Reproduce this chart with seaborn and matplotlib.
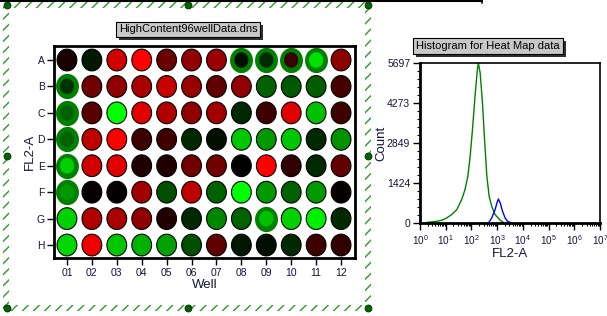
import numpy as np
import pandas as pd
import matplotlib
matplotlib.use("Agg")
import matplotlib.pyplot as plt
import matplotlib.patheffects as pe
import seaborn as sns
from matplotlib.colors import LinearSegmentedColormap
from matplotlib.path import Path
from matplotlib.patches import Rectangle
from matplotlib.lines import Line2D
from matplotlib.ticker import FixedLocator, MultipleLocator, LogLocator, NullFormatter

# ---------------- data ----------------
rows = ["A", "B", "C", "D", "E", "F", "G", "H"]
cols = ["01", "02", "03", "04", "05", "06", "07", "08", "09", "10", "11", "12"]

# well signal: negative = red, positive = green (scale -1..1)
row_A = [-0.10, 0.10, -0.82, -1.00, -0.42, -0.57, -0.60, 0.06, 0.16, -0.23, 0.88, -0.55]
row_B = [0.19, -0.44, -0.57, -0.66, -0.78, -0.60, -0.38, -0.57, 0.38, 0.35, 0.36, -0.28]
row_C = [0.38, -0.35, 1.00, -0.88, -0.69, -0.57, -0.63, 0.16, -0.25, -0.88, 0.75, -0.25]
row_D = [0.38, -0.75, -1.00, -0.25, -0.25, 0.16, 0.06, 0.78, 0.60, 0.78, 0.16, 0.57]
row_E = [0.82, -0.82, -0.88, -0.13, -0.13, -0.44, -0.44, 0.00, -1.00, -0.19, 0.16, -0.38]
row_F = [0.60, -0.03, -0.03, -0.63, 0.31, -0.75, 0.38, 1.00, 0.60, 0.38, 0.60, -0.03]
row_G = [0.82, -0.69, -0.66, -0.57, -0.13, 0.16, 0.53, 0.38, 0.75, 0.82, 0.94, 0.16]
row_H = [0.85, -0.94, 0.78, 0.69, 0.63, 0.31, -0.38, 0.09, 0.06, 0.16, -0.25, -0.19]
plate_rows = [row_A, row_B, row_C, row_D, row_E, row_F, row_G, row_H]

ringed_wells = ["A08", "A09", "A10", "A11", "B01", "C01", "D01", "E01", "F01", "G09"]

# histogram traces (log10 FL2-A, count)
green_log = [0.26, 0.65, 0.84, 1.04, 1.23, 1.43, 1.62, 1.75, 1.86, 1.95, 2.04, 2.14,
             2.23, 2.27, 2.34, 2.43, 2.51, 2.60, 2.69, 2.79, 2.92, 3.12, 3.25]
green_count = [20, 60, 95, 180, 300, 475, 830, 1190, 1660, 2370, 3320, 4510,
               5460, 5697, 5340, 4270, 2970, 1660, 950, 590, 300, 95, 20]
blue_log = [2.66, 2.79, 2.92, 2.99, 3.05, 3.12, 3.21, 3.31, 3.40, 3.57]
blue_count = [0, 180, 475, 710, 855, 710, 415, 180, 60, 0]
count_ticks = [0, 1424, 2849, 4273, 5697]

# ---------------- style ----------------
sns.set_theme(style="white")
plt.rcParams["font.family"] = ["Liberation Sans", "DejaVu Sans"]
plt.rcParams["mathtext.default"] = "regular"

W, H = 607, 316
fig = plt.figure(figsize=(W / 100, H / 100), dpi=100)
fig.patch.set_facecolor("white")


def fx(px):
    return px / W


def fy(py):
    return 1 - py / H


label_col = "#14143c"

# ---------------- plate ----------------
recs = []
for i, r in enumerate(rows):
    for j, c in enumerate(cols):
        name = r + c
        recs.append(dict(row=i + 1, col=j + 1, value=plate_rows[i][j],
                         ringed=name in ringed_wells))
df = pd.DataFrame(recs)

cmap = LinearSegmentedColormap.from_list("rg", ["#ff0000", "#000000", "#00ff00"])
t = np.linspace(0, 2 * np.pi, 60)
ell = Path(np.column_stack([np.cos(t) * 1.0, np.sin(t) * 1.1]), closed=True)

ax1 = fig.add_axes([fx(54), fy(258), fx(301), 212 / H])
ax1.set_facecolor("white")
normal = df[~df.ringed]
ring = df[df.ringed]
sns.scatterplot(data=ring, x="col", y="row", color="#008000", s=330, marker=ell,
                linewidth=0, ax=ax1, legend=False, zorder=2)
sns.scatterplot(data=normal, x="col", y="row", hue="value", palette=cmap,
                hue_norm=(-1, 1), s=245, marker=ell, edgecolor="black",
                linewidth=0.8, ax=ax1, legend=False, zorder=3)
sns.scatterplot(data=ring, x="col", y="row", hue="value", palette=cmap,
                hue_norm=(-1, 1), s=125, marker=ell, linewidth=0,
                ax=ax1, legend=False, zorder=4)
ax1.set_xlim(0.48, 12.56)
ax1.set_ylim(8.49, 0.47)
ax1.xaxis.set_major_locator(FixedLocator(range(1, 13)))
ax1.yaxis.set_major_locator(FixedLocator(range(1, 9)))
ax1.set_xticklabels(cols)
ax1.set_yticklabels(rows)
for s in ax1.spines.values():
    s.set_visible(True)
    s.set_color("black")
    s.set_linewidth(2)
ax1.tick_params(axis="both", which="major", direction="out", length=5, width=1,
                color="black", labelsize=7.5, labelcolor=label_col, pad=2,
                bottom=True, left=True)
ax1.tick_params(axis="y", pad=1.5)
ax1.set_xlabel("Well", fontsize=9.5, color=label_col, labelpad=1)
ax1.set_ylabel("FL2-A", fontsize=9.5, color=label_col, labelpad=1)

# ---------------- histogram ----------------
ax2 = fig.add_axes([fx(420), fy(223), fx(180), 160 / H])
ax2.set_facecolor("white")
gx = [10 ** v for v in green_log]
bx = [10 ** v for v in blue_log]
sns.lineplot(x=gx, y=green_count, color="#008000", linewidth=1, sort=False,
             estimator=None, ax=ax2)
sns.lineplot(x=bx, y=blue_count, color="#0000ff", linewidth=1, sort=False,
             estimator=None, ax=ax2)
ax2.set_xscale("log")
ax2.set_xlim(1, 1e7)
ax2.set_ylim(0, 5697)
ax2.xaxis.set_major_locator(LogLocator(base=10, numticks=10))
ax2.xaxis.set_minor_locator(LogLocator(base=10, subs=np.arange(2, 10), numticks=20))
ax2.xaxis.set_minor_formatter(NullFormatter())
ax2.yaxis.set_major_locator(FixedLocator(count_ticks))
ax2.yaxis.set_minor_locator(MultipleLocator(5697 / 20))
for k, s in ax2.spines.items():
    s.set_visible(True)
    s.set_color("black")
    s.set_linewidth(2 if k in ("left", "bottom") else 1.2)
ax2.tick_params(axis="both", which="major", direction="out", length=5, width=1,
                color="black", labelsize=7.5, labelcolor=label_col, pad=2,
                bottom=True, left=True)
ax2.tick_params(axis="x", labelsize=7.2)
ax2.tick_params(axis="both", which="minor", direction="out", length=2.5, width=0.8,
                color="black", bottom=True, left=True)
ax2.set_xlabel("FL2-A", fontsize=9.5, color=label_col, labelpad=1)
ax2.set_ylabel("Count", fontsize=9.5, color=label_col, labelpad=0)

# ---------------- title boxes ----------------
def title_box(cx, cy, text):
    tx = fig.text(fx(cx), fy(cy), text, fontsize=8, ha="center", va="center",
                  color="black",
                  bbox=dict(boxstyle="square,pad=0.25", fc="#c8c8c8", ec="black",
                            lw=0.8))
    tx.get_bbox_patch().set_path_effects([
        pe.SimplePatchShadow(offset=(2.2, -2.2), shadow_rgbFace="#303030", alpha=1.0),
        pe.Normal()])


title_box(188, 29.5, "HighContent96wellData.dns")
title_box(488, 46, "Histogram for Heat Map data")

# ---------------- selection frame ----------------
band = 6
left, right, top, bottom = 3, 371, 2, 311
plt.rcParams["hatch.linewidth"] = 1.0
frames = [
    (left, top, right - left, band),
    (left, bottom - band, right - left, band),
    (left, top, band, bottom - top),
    (right - band, top, band, bottom - top),
]
for (x0, y0, w, h) in frames:
    fig.patches.append(Rectangle((fx(x0), fy(y0 + h)), fx(w), h / H,
                                 transform=fig.transFigure, fill=False,
                                 hatch="///", edgecolor="#2a9a2a", linewidth=0,
                                 zorder=1))
dots_x = [7, 188, 368]
dots_y = [5, 156, 308]
for dx in dots_x:
    for dy in dots_y:
        if dx == 188 and dy == 156:
            continue
        fig.lines.append(Line2D([fx(dx)], [fy(dy)], marker="o", markersize=5,
                                markerfacecolor="#006400", markeredgecolor="#003000",
                                markeredgewidth=0.6, transform=fig.transFigure,
                                zorder=5))

# top border line of window above
fig.lines.append(Line2D([0, fx(482)], [fy(0.8), fy(0.8)], color="black", lw=1.5,
                        transform=fig.transFigure))
fig.lines.append(Line2D([fx(482), fx(482)], [fy(0), fy(3)], color="black", lw=1.2,
                        transform=fig.transFigure))

fig.savefig("out.png", dpi=100, facecolor="white")
